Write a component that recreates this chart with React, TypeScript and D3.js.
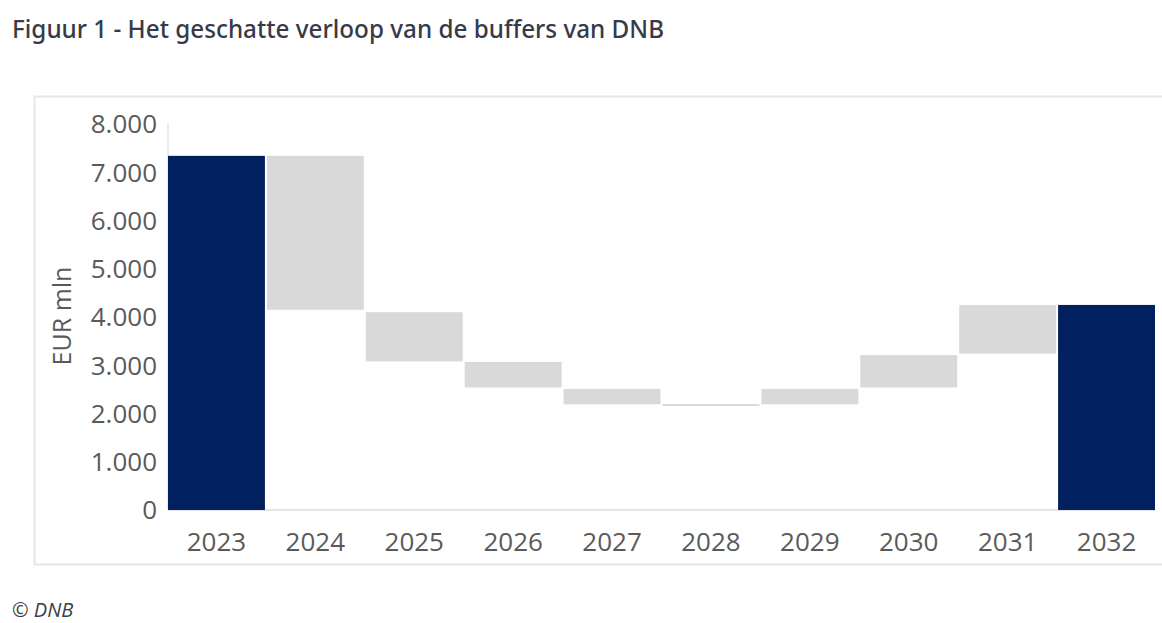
import * as d3 from "d3";
import { useEffect, useRef } from "react";

// waterfall: each bar runs from a start level to an end level (EUR mln)
const years = ["2023", "2024", "2025", "2026", "2027", "2028", "2029", "2030", "2031", "2032"];
const fromValues = [0, 7340, 4100, 3070, 2510, 2195, 2190, 2540, 3240, 0];
const toValues = [7340, 4150, 3080, 2540, 2190, 2155, 2510, 3210, 4250, 4250];
const isTotal = [true, false, false, false, false, false, false, false, false, true];
const yTicks = [0, 1000, 2000, 3000, 4000, 5000, 6000, 7000, 8000];

const W = 1162;
const H = 623;

function App() {
  const ref = useRef<SVGSVGElement>(null);

  useEffect(() => {
    const svg = d3.select(ref.current);
    svg.selectAll("*").remove();

    const nl = d3.formatLocale({
      decimal: ",",
      thousands: ".",
      grouping: [3],
      currency: ["€", ""],
    });
    const fmt = nl.format(",d");

    // title
    svg
      .append("text")
      .attr("x", 12)
      .attr("y", 38)
      .attr("textLength", 652)
      .attr("lengthAdjust", "spacingAndGlyphs")
      .style("font-family", "'Noto Sans', sans-serif")
      .style("font-weight", 500)
      .style("font-size", "25px")
      .style("fill", "#373a47")
      .text("Figuur 1 - Het geschatte verloop van de buffers van DNB");

    // light frame round the chart
    svg
      .append("rect")
      .attr("x", 34.5)
      .attr("y", 96.5)
      .attr("width", 1140)
      .attr("height", 468)
      .attr("fill", "none")
      .attr("stroke", "#e6e6e6")
      .attr("stroke-width", 2);

    const x = d3.scaleBand().domain(years).range([168, 1155]).paddingInner(0.02).paddingOuter(0);
    const y = d3.scaleLinear().domain([0, 8000]).range([510, 124]);

    // axis lines
    svg
      .append("line")
      .attr("x1", 168)
      .attr("x2", 168)
      .attr("y1", y(8000))
      .attr("y2", y(0))
      .attr("stroke", "#e3e3e3")
      .attr("stroke-width", 1.5);
    svg
      .append("line")
      .attr("x1", 168)
      .attr("x2", 1155)
      .attr("y1", y(0))
      .attr("y2", y(0))
      .attr("stroke", "#dcdcdc")
      .attr("stroke-width", 1.5);

    // bars
    svg
      .append("g")
      .selectAll("rect")
      .data(years)
      .join("rect")
      .attr("x", (d) => x(d)!)
      .attr("width", x.bandwidth())
      .attr("y", (d, i) => y(Math.max(fromValues[i], toValues[i])))
      .attr("height", (d, i) => Math.abs(y(fromValues[i]) - y(toValues[i])))
      .attr("fill", (d, i) => (isTotal[i] ? "#002060" : "#d9d9d9"));

    // y tick labels
    svg
      .append("g")
      .selectAll("text")
      .data(yTicks)
      .join("text")
      .attr("x", 157)
      .attr("y", (d) => y(d))
      .attr("dy", "0.36em")
      .attr("text-anchor", "end")
      .style("font-family", "'Open Sans', sans-serif")
      .style("font-size", "26px")
      .style("fill", "#5a5a5a")
      .text((d) => fmt(d));

    // x labels
    svg
      .append("g")
      .selectAll("text")
      .data(years)
      .join("text")
      .attr("x", (d) => x(d)! + x.bandwidth() / 2)
      .attr("y", 542)
      .attr("dy", "0.36em")
      .attr("text-anchor", "middle")
      .style("font-family", "'Open Sans', sans-serif")
      .style("font-size", "26px")
      .style("fill", "#5a5a5a")
      .text((d) => d);

    // y axis title
    svg
      .append("text")
      .attr("transform", "translate(62,316) rotate(-90)")
      .attr("dy", "0.36em")
      .attr("text-anchor", "middle")
      .style("font-family", "'Open Sans', sans-serif")
      .style("font-size", "25px")
      .style("fill", "#5a5a5a")
      .text("EUR mln");

    // source
    svg
      .append("text")
      .attr("x", 12)
      .attr("y", 617)
      .style("font-family", "'Open Sans', sans-serif")
      .style("font-style", "italic")
      .style("font-size", "20px")
      .style("fill", "#3a3d4a")
      .text("© DNB");
  }, []);

  return (
    <svg
      ref={ref}
      width={W}
      height={H}
      style={{ position: "absolute", left: 0, top: 0, background: "#ffffff", display: "block" }}
    />
  );
}

export default App;
